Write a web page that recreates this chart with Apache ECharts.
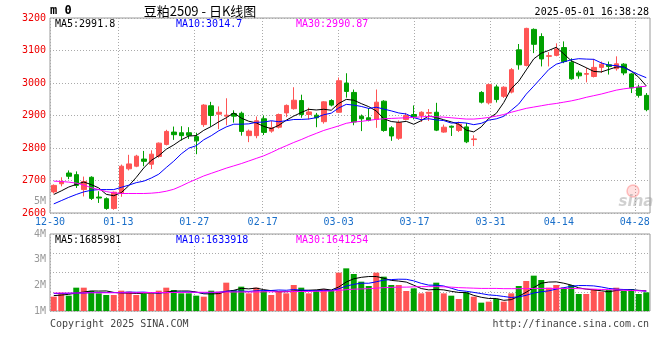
<!DOCTYPE html>
<html>
<head>
<meta charset="utf-8">
<script src="https://cdn.jsdelivr.net/npm/echarts@6/dist/echarts.min.js"></script>
<style>
html,body{margin:0;padding:0;background:#fff;}
#chart{width:660px;height:360px;}
</style>
</head>
<body>
<div id="chart"></div>
<script>
// ---- data ----
const dates = ['12-30','12-31','01-02','01-03','01-06','01-07','01-08','01-09','01-10','01-13','01-14','01-15','01-16','01-17','01-20','01-21','01-22','01-23','01-24','01-27','02-05','02-06','02-07','02-10','02-11','02-12','02-13','02-14','02-17','02-18','02-19','02-20','02-21','02-24','02-25','02-26','02-27','02-28','03-03','03-04','03-05','03-06','03-07','03-10','03-11','03-12','03-13','03-14','03-17','03-18','03-19','03-20','03-21','03-24','03-25','03-26','03-27','03-28','03-31','04-01','04-02','04-03','04-07','04-08','04-09','04-10','04-11','04-14','04-15','04-16','04-17','04-18','04-21','04-22','04-23','04-24','04-25','04-28','04-29','04-30'];
const xTickLabels = ['12-30','01-13','01-27','02-17','03-03','03-17','03-31','04-14','04-28'];

const opens = [2665,2690,2723,2718,2672,2710,2649,2644,2614,2662,
 2736,2744,2766,2750,2774,2811,2849,2847,2847,2835,
 2872,2930,2904,2898,2906,2907,2838,2838,2890,2852,
 2864,2908,2921,2946,2903,2901,2881,2946,2910,3000,
 2971,2898,2893,2888,2944,2862,2830,2888,2903,2900,
 2907,2910,2849,2867,2854,2865,2826,2971,2939,2988,
 2959,2972,3102,3054,3165,3143,3082,3085,3109,3064,
 3031,3027,3020,3048,3056,3044,3058,3028,2987,2962];
const closes = [2685,2697,2713,2685,2697,2645,2646,2614,2664,2744,
 2751,2775,2759,2781,2815,2851,2841,2838,2839,2822,
 2932,2900,2910,2901,2898,2851,2852,2884,2848,2862,
 2903,2931,2947,2903,2911,2893,2942,2932,3007,2974,
 2880,2890,2885,2941,2854,2837,2878,2900,2896,2910,
 2909,2855,2864,2864,2873,2819,2828,2941,2995,2949,
 2987,3041,3056,3168,3119,3074,3084,3105,3066,3013,
 3022,3029,3048,3058,3051,3059,3031,2985,2962,2918];
const lows = [2660,2682,2704,2677,2651,2640,2631,2610,2610,2650,
 2731,2741,2744,2735,2770,2808,2825,2823,2828,2781,
 2865,2866,2858,2870,2878,2838,2818,2830,2840,2847,
 2860,2895,2918,2893,2888,2864,2875,2928,2908,2955,
 2870,2852,2882,2862,2850,2822,2825,2885,2888,2880,
 2883,2852,2847,2837,2849,2815,2806,2937,2934,2940,
 2954,2968,3041,3051,3092,3051,3051,3082,3061,3010,
 3013,3002,3017,3031,3026,3038,3024,2969,2955,2913];
const highs = [2688,2710,2731,2728,2712,2713,2667,2648,2666,2749,
 2779,2779,2791,2793,2817,2856,2866,2867,2864,2847,
 2935,2942,2928,2953,2916,2912,2857,2897,2900,2883,
 2906,2934,2987,2964,2924,2908,2944,2950,3017,3030,
 2980,2903,2923,2980,2947,2867,2885,2908,2931,2913,
 2920,2939,2872,2869,2881,2877,2839,2975,2998,2995,
 2990,3046,3120,3170,3168,3153,3095,3122,3128,3076,
 3038,3046,3074,3066,3066,3082,3061,3031,2995,2969];

const ma5 = [2657,2668,2680,2688,2695.4,2687.4,2677.2,2657.4,2653.2,2662.6,
 2683.8,2709.6,2738.6,2762,2776.2,2796.2,2809.4,2825.2,2836.8,2838.2,
 2854.4,2866.2,2880.6,2893,2908.2,2892,2882.4,2877.2,2866.6,2859.4,
 2869.8,2885.6,2898.2,2909.2,2919,2917,2919.2,2916.2,2937,2949.6,
 2947,2936.6,2927.2,2914,2890,2881.4,2879,2882,2873,2884.2,
 2898.6,2894,2886.8,2880.4,2873,2855,2849.6,2865,2891.2,2906.4,
 2940,2982.6,3005.6,3040.2,3074.2,3091.6,3100.2,3110,3089.6,3068.4,
 3058,3047,3035.6,3034,3041.6,3049,3049.4,3036.8,3017.6,2991];
const ma10 = [2628,2638,2648,2657,2665,2670,2672,2672,2672,2679,
 2685.6,2693.4,2698,2707.6,2719.4,2740,2759.5,2781.9,2799.4,2807.2,
 2825.3,2837.8,2852.9,2864.9,2873.2,2873.2,2874.3,2878.9,2879.8,2883.8,
 2880.9,2884,2887.7,2887.9,2889.2,2893.4,2902.4,2907.2,2923.1,2934.3,
 2932,2927.9,2921.7,2925.5,2919.8,2914.2,2907.8,2904.6,2893.5,2887.1,
 2890,2886.5,2884.4,2876.7,2878.6,2876.8,2871.8,2875.9,2885.8,2889.7,
 2897.5,2916.1,2935.3,2965.7,2990.3,3015.8,3041.4,3057.8,3064.9,3071.3,
 3074.8,3073.6,3072.8,3061.8,3055,3053.5,3048.2,3036.2,3025.8,3016.3];
const ma30 = [2698,2697,2695,2692,2686,2678,2672,2666,2662,2660,
 2660,2660,2660,2661,2663,2667,2673,2683,2694,2704,
 2714,2722,2730,2738,2745,2752,2760,2768,2776,2786,
 2797,2807,2817,2826,2836,2845,2854,2861,2868,2876,
 2880,2882,2885,2888,2890,2891,2892,2893,2894,2896,
 2897,2896,2895,2893,2891,2889,2889,2891,2894,2898,
 2903,2910,2916,2922,2926,2930,2934,2937,2941,2945,
 2950,2956,2961,2966,2972,2978,2982,2985,2988,2990];

const volumes = [1558000,1714000,1597000,1909000,1909000,1779000,1688000,1623000,1623000,1792000,
 1753000,1623000,1662000,1688000,1792000,1909000,1818000,1688000,1688000,1597000,
 1558000,1792000,1753000,2104000,1818000,1948000,1688000,1909000,1792000,1623000,
 1753000,1688000,2013000,1909000,1688000,1818000,1857000,1818000,2494000,2662000,
 2442000,2143000,1974000,2494000,2338000,2013000,2013000,1779000,1883000,1688000,
 1753000,2104000,1688000,1597000,1468000,1727000,1558000,1325000,1364000,1468000,
 1364000,1688000,1974000,2169000,2377000,2208000,1909000,2013000,1909000,2013000,
 1662000,1662000,1857000,1753000,1818000,1909000,1779000,1857000,1662000,1727000];
const volMa5 = [1600000,1620000,1650000,1700000,1737000,1782000,1776000,1782000,1724000,1701000,
 1696000,1683000,1691000,1704000,1704000,1735000,1774000,1779000,1779000,1740000,
 1670000,1665000,1678000,1761000,1805000,1883000,1862000,1893000,1831000,1792000,
 1753000,1753000,1774000,1797000,1810000,1823000,1857000,1818000,1935000,2130000,
 2255000,2312000,2343000,2343000,2278000,2192000,2166000,2127000,2005000,1875000,
 1823000,1841000,1823000,1766000,1722000,1717000,1608000,1535000,1488000,1488000,
 1416000,1442000,1572000,1733000,1914000,2083000,2127000,2135000,2083000,2010000,
 1901000,1852000,1821000,1789000,1750000,1800000,1823000,1823000,1805000,1787000];
const volMa10 = [1680000,1680000,1690000,1700000,1700000,1720000,1720000,1720000,1720000,1719000,
 1739000,1730000,1736000,1714000,1702000,1715000,1728000,1735000,1741000,1722000,
 1702000,1719000,1728000,1770000,1773000,1776000,1763000,1786000,1796000,1799000,
 1818000,1808000,1834000,1814000,1801000,1788000,1805000,1796000,1866000,1970000,
 2039000,2084000,2081000,2139000,2204000,2224000,2239000,2235000,2174000,2077000,
 2008000,2004000,1975000,1886000,1799000,1770000,1725000,1679000,1627000,1605000,
 1566000,1525000,1553000,1611000,1701000,1750000,1785000,1853000,1908000,1962000,
 1992000,1990000,1978000,1936000,1880000,1851000,1838000,1822000,1797000,1769000];
const volMa30 = [1700000,1700000,1700000,1700000,1710000,1710000,1710000,1710000,1710000,1710000,
 1710000,1710000,1720000,1720000,1720000,1720000,1720000,1720000,1730000,1730000,
 1730000,1730000,1730000,1740000,1740000,1740000,1740000,1740000,1750000,1750000,
 1750000,1750000,1760000,1760000,1760000,1770000,1770000,1780000,1800000,1830000,
 1850000,1860000,1870000,1890000,1910000,1920000,1930000,1930000,1940000,1950000,
 1950000,1950000,1940000,1930000,1910000,1900000,1890000,1880000,1880000,1880000,
 1870000,1870000,1870000,1870000,1880000,1880000,1880000,1880000,1880000,1880000,
 1870000,1860000,1850000,1840000,1830000,1820000,1810000,1800000,1790000,1780000];

const volTickLabels = ['1M','2M','3M','4M'];
const priceLegend = ['MA5:2991.8','MA10:3014.7','MA30:2990.87'];
const volLegend = ['MA5:1685981','MA10:1633918','MA30:1641254'];
const titleText = '豆粕2509 - 日K线图';
const codeText = 'm 0';
const timeText = '2025-05-01 16:38:28';
const copyText = 'Copyright 2025 SINA.COM';
const urlText = 'http://finance.sina.com.cn';

// ---- styles ----
const RED = '#ff5555', GREEN = '#00a000';
const MONO = '"DejaVu Sans Mono", "Liberation Mono", monospace';
const GRIDLINE = {color:'#aaaaaa', width:1, type:[1,2]};
const legendColors = ['#000000','#0000ff','#ff00ff'];
const legendX = [54, 175, 295];

const candleData = opens.map((o,i)=>[o, closes[i], lows[i], highs[i]]);
const isTick = (i, v) => xTickLabels.indexOf(v) >= 0;

const chart = echarts.init(document.getElementById('chart'), null, {renderer:'canvas'});

function txt(x, y, text, font, fill, align, valign, bg){
  const st = {text:text, x:x, y:y, font:font, fill:fill,
    align:align||'left', textAlign:align||'left',
    verticalAlign:valign||'middle', textVerticalAlign:valign||'middle'};
  if (bg) { st.backgroundColor = bg; st.padding = [0,1]; }
  return {type:'text', z:100, silent:true, style:st};
}

const graphics = [
  txt(50, 11, codeText, 'bold 12px ' + MONO, '#000'),
  txt(200, 11, titleText, '13px "Noto Sans CJK SC", sans-serif', '#000', 'center'),
  txt(649, 12, timeText, '10px ' + MONO, '#000', 'right'),
  txt(50, 324, copyText, '10px ' + MONO, '#444'),
  txt(649, 324, urlText, '10px ' + MONO, '#444', 'right'),
  txt(46, 201, '5M', '10px ' + MONO, '#999', 'right'),
  {type:'circle', z:90, silent:true, shape:{cx:633, cy:191, r:6},
    style:{fill:'rgba(255,90,90,0.18)', stroke:'rgba(255,90,90,0.35)', lineWidth:1.5}},
  txt(636, 202, 'sina', 'italic bold 15px "DejaVu Sans", sans-serif', 'rgba(150,150,150,0.45)', 'center')
];
priceLegend.forEach((t,k)=>graphics.push(txt(legendX[k], 24, t, '10px ' + MONO, legendColors[k], 'left', 'middle', '#fff')));
volLegend.forEach((t,k)=>graphics.push(txt(legendX[k], 240, t, '10px ' + MONO, legendColors[k], 'left', 'middle', '#fff')));

const hiddenCat = (grid, pos) => ({type:'category', gridIndex:grid, data:dates, boundaryGap:true, position:pos,
  axisLine:{show:false}, axisTick:{show:false}, axisLabel:{show:false}, splitLine:{show:false}});

const option = {
  animation:false,
  backgroundColor:'#fff',
  grid:[
    {left:50, top:18, width:600, height:195, show:true, borderColor:'#9a9a9a', borderWidth:1, backgroundColor:'transparent'},
    {left:50, top:234, width:600, height:77, show:true, borderColor:'#9a9a9a', borderWidth:1, backgroundColor:'transparent'}
  ],
  xAxis:[
    hiddenCat(0, 'top'),
    {type:'category', gridIndex:0, data:dates, boundaryGap:false, position:'bottom',
      axisLine:{show:false}, axisTick:{show:false},
      axisLabel:{show:true, interval:isTick, color:'#1a6fc9', fontFamily:MONO, fontSize:10, margin:4, hideOverlap:false},
      splitLine:{show:true, interval:isTick, lineStyle:GRIDLINE}},
    hiddenCat(1, 'top'),
    {type:'category', gridIndex:1, data:dates, boundaryGap:false, position:'bottom',
      axisLine:{show:false}, axisTick:{show:false}, axisLabel:{show:false},
      splitLine:{show:true, interval:isTick, lineStyle:GRIDLINE}}
  ],
  yAxis:[
    {type:'value', gridIndex:0, min:2600, max:3200, interval:100, position:'left',
      axisLine:{show:false}, axisTick:{show:false},
      axisLabel:{color:'#ee0000', fontFamily:MONO, fontSize:10, margin:4, formatter:(v)=>String(v)},
      splitLine:{show:true, lineStyle:GRIDLINE}},
    {type:'value', gridIndex:1, min:1000000, max:4000000, interval:1000000, position:'left',
      axisLine:{show:false}, axisTick:{show:false},
      axisLabel:{color:'#999999', fontFamily:MONO, fontSize:10, margin:4,
        formatter:(v)=>volTickLabels[Math.round(v/1000000)-1] || ''},
      splitLine:{show:false}},
    {type:'value', gridIndex:1, min:0, max:4, interval:1, position:'right',
      axisLine:{show:false}, axisTick:{show:false}, axisLabel:{show:false},
      splitLine:{show:true, lineStyle:GRIDLINE}}
  ],
  series:[
    {type:'candlestick', xAxisIndex:0, yAxisIndex:0, data:candleData, barWidth:5,
      itemStyle:{color:RED, color0:GREEN, borderColor:RED, borderColor0:GREEN, borderWidth:1}, silent:true},
    {type:'line', xAxisIndex:0, yAxisIndex:0, data:ma5, symbol:'none', lineStyle:{color:'#000', width:1}, silent:true, z:5},
    {type:'line', xAxisIndex:0, yAxisIndex:0, data:ma10, symbol:'none', lineStyle:{color:'#0000ff', width:1}, silent:true, z:5},
    {type:'line', xAxisIndex:0, yAxisIndex:0, data:ma30, symbol:'none', lineStyle:{color:'#ff00ff', width:1}, silent:true, z:5},
    {type:'bar', xAxisIndex:2, yAxisIndex:1, data:volumes, barWidth:6, silent:true,
      itemStyle:{color:(p)=> closes[p.dataIndex] >= opens[p.dataIndex] ? RED : GREEN}},
    {type:'line', xAxisIndex:2, yAxisIndex:1, data:volMa5, symbol:'none', lineStyle:{color:'#000', width:1}, silent:true, z:5},
    {type:'line', xAxisIndex:2, yAxisIndex:1, data:volMa10, symbol:'none', lineStyle:{color:'#0000ff', width:1}, silent:true, z:5},
    {type:'line', xAxisIndex:2, yAxisIndex:1, data:volMa30, symbol:'none', lineStyle:{color:'#ff00ff', width:1}, silent:true, z:5}
  ],
  graphic:graphics
};
chart.setOption(option);
</script>
</body>
</html>
